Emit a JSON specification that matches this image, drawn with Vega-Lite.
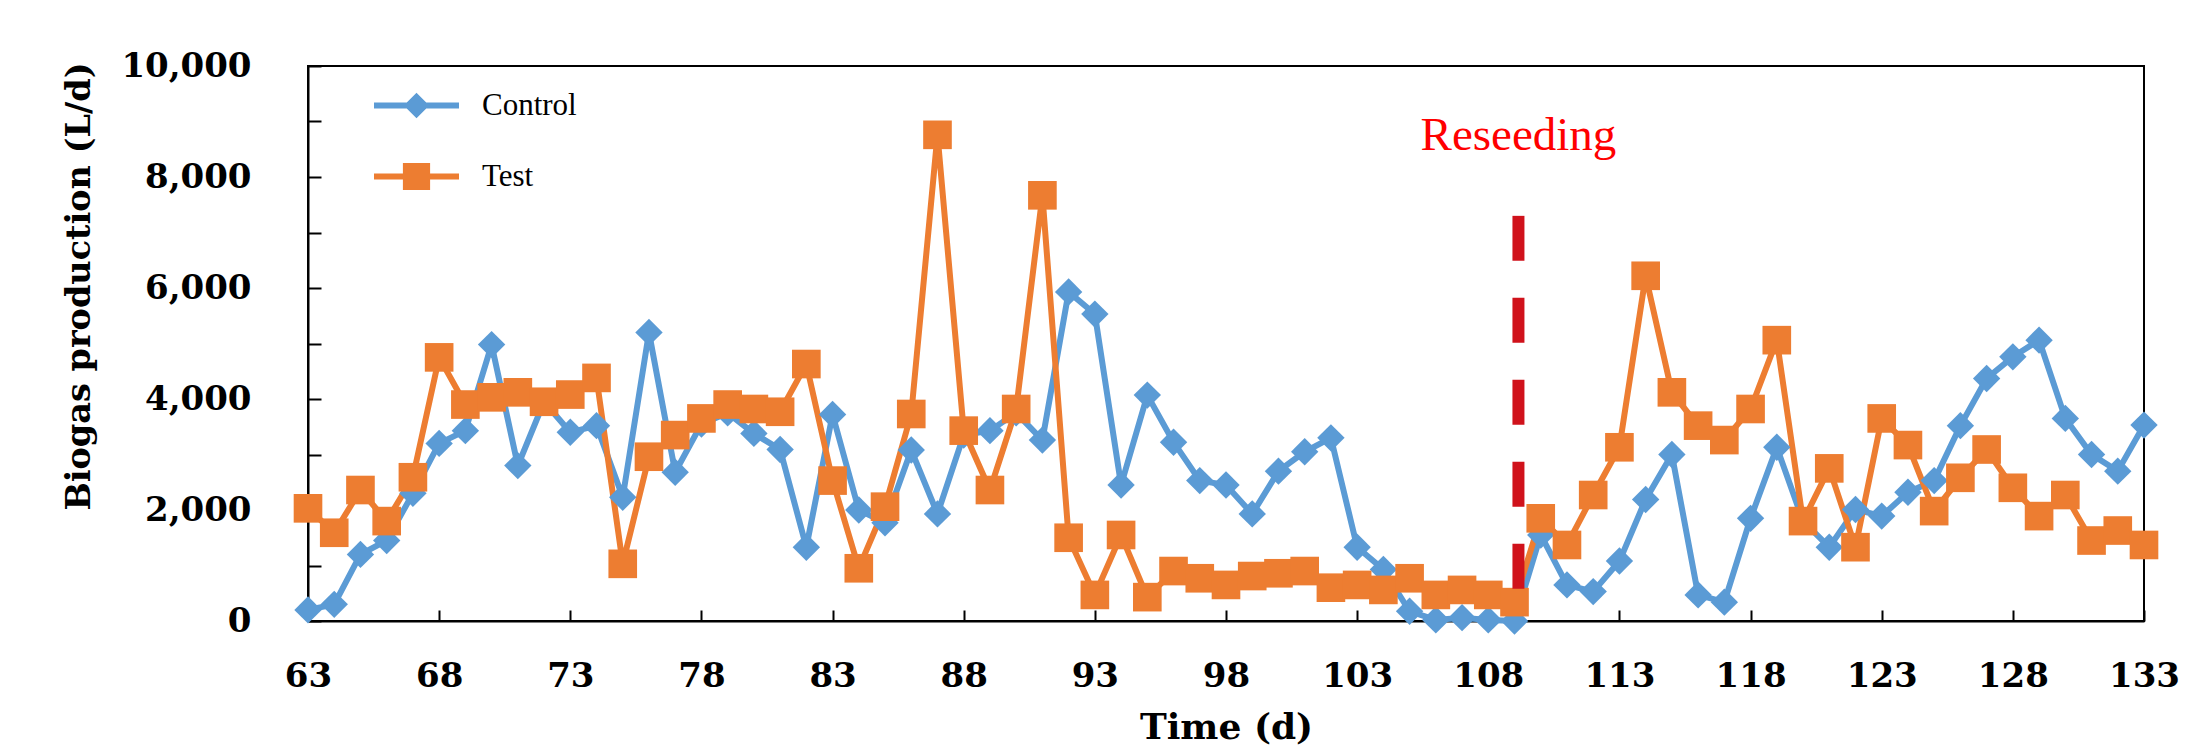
{
  "$schema": "https://vega.github.io/schema/vega-lite/v6.json",
  "autosize": {"type": "none"},
  "width": 1836,
  "height": 555,
  "padding": {"left": 308, "top": 66, "right": 60, "bottom": 125},
  "background": "white",
  "config": {
    "view": {"stroke": "black", "strokeWidth": 2},
    "axis": {
      "domainColor": "black", "domainWidth": 2,
      "tickColor": "black", "tickWidth": 2,
      "grid": false,
      "labelColor": "black", "titleColor": "black",
      "labelFont": "DejaVu Serif", "labelFontWeight": "bold", "labelFontSize": 34,
      "titleFont": "DejaVu Serif", "titleFontWeight": "bold"
    },
    "legend": {
      "title": null, "orient": "none", "legendX": 66, "legendY": -3,
      "padding": 0, "symbolSize": 7225, "labelOffset": 23, "rowPadding": 13,
      "labelFont": "Liberation Serif", "labelFontSize": 31, "labelColor": "black",
      "symbolStrokeWidth": 0, "symbolOpacity": 1
    }
  },
  "datasets": {
    "biogas": [
      {"day": 63, "series": "Control", "value": 200},
      {"day": 64, "series": "Control", "value": 300},
      {"day": 65, "series": "Control", "value": 1200},
      {"day": 66, "series": "Control", "value": 1450},
      {"day": 67, "series": "Control", "value": 2300},
      {"day": 68, "series": "Control", "value": 3200},
      {"day": 69, "series": "Control", "value": 3430},
      {"day": 70, "series": "Control", "value": 4980},
      {"day": 71, "series": "Control", "value": 2800},
      {"day": 72, "series": "Control", "value": 3950},
      {"day": 73, "series": "Control", "value": 3400},
      {"day": 74, "series": "Control", "value": 3520},
      {"day": 75, "series": "Control", "value": 2230},
      {"day": 76, "series": "Control", "value": 5200},
      {"day": 77, "series": "Control", "value": 2680},
      {"day": 78, "series": "Control", "value": 3550},
      {"day": 79, "series": "Control", "value": 3750},
      {"day": 80, "series": "Control", "value": 3380},
      {"day": 81, "series": "Control", "value": 3090},
      {"day": 82, "series": "Control", "value": 1330},
      {"day": 83, "series": "Control", "value": 3720},
      {"day": 84, "series": "Control", "value": 2000},
      {"day": 85, "series": "Control", "value": 1770},
      {"day": 86, "series": "Control", "value": 3080},
      {"day": 87, "series": "Control", "value": 1930},
      {"day": 88, "series": "Control", "value": 3350},
      {"day": 89, "series": "Control", "value": 3430},
      {"day": 90, "series": "Control", "value": 3750},
      {"day": 91, "series": "Control", "value": 3260},
      {"day": 92, "series": "Control", "value": 5930},
      {"day": 93, "series": "Control", "value": 5530},
      {"day": 94, "series": "Control", "value": 2450},
      {"day": 95, "series": "Control", "value": 4070},
      {"day": 96, "series": "Control", "value": 3220},
      {"day": 97, "series": "Control", "value": 2530},
      {"day": 98, "series": "Control", "value": 2450},
      {"day": 99, "series": "Control", "value": 1930},
      {"day": 100, "series": "Control", "value": 2700},
      {"day": 101, "series": "Control", "value": 3050},
      {"day": 102, "series": "Control", "value": 3300},
      {"day": 103, "series": "Control", "value": 1330},
      {"day": 104, "series": "Control", "value": 930},
      {"day": 105, "series": "Control", "value": 175},
      {"day": 106, "series": "Control", "value": 20},
      {"day": 107, "series": "Control", "value": 60},
      {"day": 108, "series": "Control", "value": 20},
      {"day": 109, "series": "Control", "value": 0},
      {"day": 110, "series": "Control", "value": 1550},
      {"day": 111, "series": "Control", "value": 650},
      {"day": 112, "series": "Control", "value": 530},
      {"day": 113, "series": "Control", "value": 1080},
      {"day": 114, "series": "Control", "value": 2190},
      {"day": 115, "series": "Control", "value": 3000},
      {"day": 116, "series": "Control", "value": 470},
      {"day": 117, "series": "Control", "value": 340},
      {"day": 118, "series": "Control", "value": 1850},
      {"day": 119, "series": "Control", "value": 3130},
      {"day": 120, "series": "Control", "value": 1800},
      {"day": 121, "series": "Control", "value": 1330},
      {"day": 122, "series": "Control", "value": 2010},
      {"day": 123, "series": "Control", "value": 1890},
      {"day": 124, "series": "Control", "value": 2320},
      {"day": 125, "series": "Control", "value": 2530},
      {"day": 126, "series": "Control", "value": 3520},
      {"day": 127, "series": "Control", "value": 4370},
      {"day": 128, "series": "Control", "value": 4760},
      {"day": 129, "series": "Control", "value": 5060},
      {"day": 130, "series": "Control", "value": 3650},
      {"day": 131, "series": "Control", "value": 3000},
      {"day": 132, "series": "Control", "value": 2700},
      {"day": 133, "series": "Control", "value": 3530},
      {"day": 63, "series": "Test", "value": 2030},
      {"day": 64, "series": "Test", "value": 1590},
      {"day": 65, "series": "Test", "value": 2360},
      {"day": 66, "series": "Test", "value": 1800},
      {"day": 67, "series": "Test", "value": 2590},
      {"day": 68, "series": "Test", "value": 4750},
      {"day": 69, "series": "Test", "value": 3900},
      {"day": 70, "series": "Test", "value": 4030},
      {"day": 71, "series": "Test", "value": 4120},
      {"day": 72, "series": "Test", "value": 3950},
      {"day": 73, "series": "Test", "value": 4080},
      {"day": 74, "series": "Test", "value": 4380},
      {"day": 75, "series": "Test", "value": 1030},
      {"day": 76, "series": "Test", "value": 2960},
      {"day": 77, "series": "Test", "value": 3350},
      {"day": 78, "series": "Test", "value": 3650},
      {"day": 79, "series": "Test", "value": 3900},
      {"day": 80, "series": "Test", "value": 3820},
      {"day": 81, "series": "Test", "value": 3770},
      {"day": 82, "series": "Test", "value": 4630},
      {"day": 83, "series": "Test", "value": 2530},
      {"day": 84, "series": "Test", "value": 950},
      {"day": 85, "series": "Test", "value": 2060},
      {"day": 86, "series": "Test", "value": 3730},
      {"day": 87, "series": "Test", "value": 8760},
      {"day": 88, "series": "Test", "value": 3430},
      {"day": 89, "series": "Test", "value": 2360},
      {"day": 90, "series": "Test", "value": 3820},
      {"day": 91, "series": "Test", "value": 7670},
      {"day": 92, "series": "Test", "value": 1500},
      {"day": 93, "series": "Test", "value": 470},
      {"day": 94, "series": "Test", "value": 1550},
      {"day": 95, "series": "Test", "value": 430},
      {"day": 96, "series": "Test", "value": 900},
      {"day": 97, "series": "Test", "value": 770},
      {"day": 98, "series": "Test", "value": 650},
      {"day": 99, "series": "Test", "value": 810},
      {"day": 100, "series": "Test", "value": 860},
      {"day": 101, "series": "Test", "value": 900},
      {"day": 102, "series": "Test", "value": 600},
      {"day": 103, "series": "Test", "value": 650},
      {"day": 104, "series": "Test", "value": 560},
      {"day": 105, "series": "Test", "value": 770},
      {"day": 106, "series": "Test", "value": 470},
      {"day": 107, "series": "Test", "value": 560},
      {"day": 108, "series": "Test", "value": 470},
      {"day": 109, "series": "Test", "value": 340},
      {"day": 110, "series": "Test", "value": 1850},
      {"day": 111, "series": "Test", "value": 1370},
      {"day": 112, "series": "Test", "value": 2270},
      {"day": 113, "series": "Test", "value": 3130},
      {"day": 114, "series": "Test", "value": 6220},
      {"day": 115, "series": "Test", "value": 4120},
      {"day": 116, "series": "Test", "value": 3520},
      {"day": 117, "series": "Test", "value": 3260},
      {"day": 118, "series": "Test", "value": 3820},
      {"day": 119, "series": "Test", "value": 5060},
      {"day": 120, "series": "Test", "value": 1800},
      {"day": 121, "series": "Test", "value": 2750},
      {"day": 122, "series": "Test", "value": 1330},
      {"day": 123, "series": "Test", "value": 3650},
      {"day": 124, "series": "Test", "value": 3170},
      {"day": 125, "series": "Test", "value": 1980},
      {"day": 126, "series": "Test", "value": 2580},
      {"day": 127, "series": "Test", "value": 3090},
      {"day": 128, "series": "Test", "value": 2400},
      {"day": 129, "series": "Test", "value": 1890},
      {"day": 130, "series": "Test", "value": 2270},
      {"day": 131, "series": "Test", "value": 1450},
      {"day": 132, "series": "Test", "value": 1630},
      {"day": 133, "series": "Test", "value": 1370}
    ],
    "events": [
      {"event": "Reseeding", "day": 109.15, "start": 0, "end": 7300, "labelAt": 8480}
    ]
  },
  "layer": [
    {
      "data": {"name": "biogas"},
      "mark": {"type": "line", "strokeWidth": 6, "clip": false},
      "encoding": {
        "x": {"field": "day", "type": "quantitative",
          "scale": {"domain": [63, 133], "nice": false, "zero": false},
          "axis": {
            "title": "Time (d)", "titleFontSize": 36,
            "titleY": 117, "titleBaseline": "alphabetic",
            "values": [63, 68, 73, 78, 83, 88, 93, 98, 103, 108, 113, 118, 123, 128, 133],
            "tickSize": -11, "labelPadding": 49, "labelBaseline": "top",
            "labelFlush": false, "labelOverlap": false
          }
        },
        "y": {"field": "value", "type": "quantitative",
          "scale": {"domain": [0, 10000], "nice": false},
          "axis": {
            "title": "Biogas production (L/d)", "titleFontSize": 33.5,
            "titleAngle": -90, "titleX": -229, "titleY": 220,
            "titleAlign": "center", "titleBaseline": "middle",
            "values": [0, 1000, 2000, 3000, 4000, 5000, 6000, 7000, 8000, 9000, 10000],
            "labelExpr": "datum.value % 2000 === 0 ? format(datum.value, ',') : ''",
            "tickSize": -13, "labelPadding": 70, "labelFlush": false, "labelOverlap": false
          }
        },
        "color": {"field": "series", "type": "nominal",
          "scale": {"domain": ["Control", "Test"], "range": ["#5B9BD5", "#ED7D31"]},
          "legend": {
            "rowPadding": 13,
            "encode": {"symbols": {"update": {
              "shape": {"signal": "datum.value === 'Control' ? 'M-1,-0.07L1,-0.07L1,0.07L-1,0.07Z M0,-0.3L0.3,0L0,0.3L-0.3,0Z' : 'M-1,-0.07L1,-0.07L1,0.07L-1,0.07Z M-0.32,-0.32L0.32,-0.32L0.32,0.32L-0.32,0.32Z'"},
              "fill": {"signal": "datum.value === 'Control' ? '#5B9BD5' : '#ED7D31'"},
              "stroke": {"value": "transparent"},
              "size": {"value": 7225}
            }}}
          }
        },
        "detail": {"field": "series"}
      }
    },
    {
      "data": {"name": "biogas"},
      "transform": [{"filter": "datum.series === 'Control'"}],
      "mark": {"type": "point", "shape": "diamond", "filled": true, "opacity": 1, "size": 750, "clip": false},
      "encoding": {
        "x": {"field": "day", "type": "quantitative"},
        "y": {"field": "value", "type": "quantitative"},
        "color": {"field": "series", "type": "nominal",
          "scale": {"domain": ["Control", "Test"], "range": ["#5B9BD5", "#ED7D31"]},
          "legend": {
            "rowPadding": 13,
            "encode": {"symbols": {"update": {
              "shape": {"signal": "datum.value === 'Control' ? 'M-1,-0.07L1,-0.07L1,0.07L-1,0.07Z M0,-0.3L0.3,0L0,0.3L-0.3,0Z' : 'M-1,-0.07L1,-0.07L1,0.07L-1,0.07Z M-0.32,-0.32L0.32,-0.32L0.32,0.32L-0.32,0.32Z'"},
              "fill": {"signal": "datum.value === 'Control' ? '#5B9BD5' : '#ED7D31'"},
              "stroke": {"value": "transparent"},
              "size": {"value": 7225}
            }}}
          }
        }
      }
    },
    {
      "data": {"name": "biogas"},
      "transform": [{"filter": "datum.series === 'Test'"}],
      "mark": {"type": "point", "shape": "square", "filled": true, "opacity": 1, "size": 820, "clip": false},
      "encoding": {
        "x": {"field": "day", "type": "quantitative"},
        "y": {"field": "value", "type": "quantitative"},
        "color": {"field": "series", "type": "nominal",
          "scale": {"domain": ["Control", "Test"], "range": ["#5B9BD5", "#ED7D31"]},
          "legend": {
            "rowPadding": 13,
            "encode": {"symbols": {"update": {
              "shape": {"signal": "datum.value === 'Control' ? 'M-1,-0.07L1,-0.07L1,0.07L-1,0.07Z M0,-0.3L0.3,0L0,0.3L-0.3,0Z' : 'M-1,-0.07L1,-0.07L1,0.07L-1,0.07Z M-0.32,-0.32L0.32,-0.32L0.32,0.32L-0.32,0.32Z'"},
              "fill": {"signal": "datum.value === 'Control' ? '#5B9BD5' : '#ED7D31'"},
              "stroke": {"value": "transparent"},
              "size": {"value": 7225}
            }}}
          }
        }
      }
    },
    {
      "data": {"name": "events"},
      "mark": {"type": "rule", "color": "#D0121B", "strokeWidth": 12, "strokeDash": [45, 37]},
      "encoding": {
        "x": {"field": "day", "type": "quantitative"},
        "y": {"field": "end", "type": "quantitative"},
        "y2": {"field": "start"}
      }
    },
    {
      "data": {"name": "events"},
      "mark": {"type": "text", "color": "#FF0000", "font": "Liberation Serif", "fontSize": 47, "align": "center", "baseline": "alphabetic"},
      "encoding": {
        "x": {"field": "day", "type": "quantitative"},
        "y": {"field": "labelAt", "type": "quantitative"},
        "text": {"field": "event"}
      }
    }
  ]
}
